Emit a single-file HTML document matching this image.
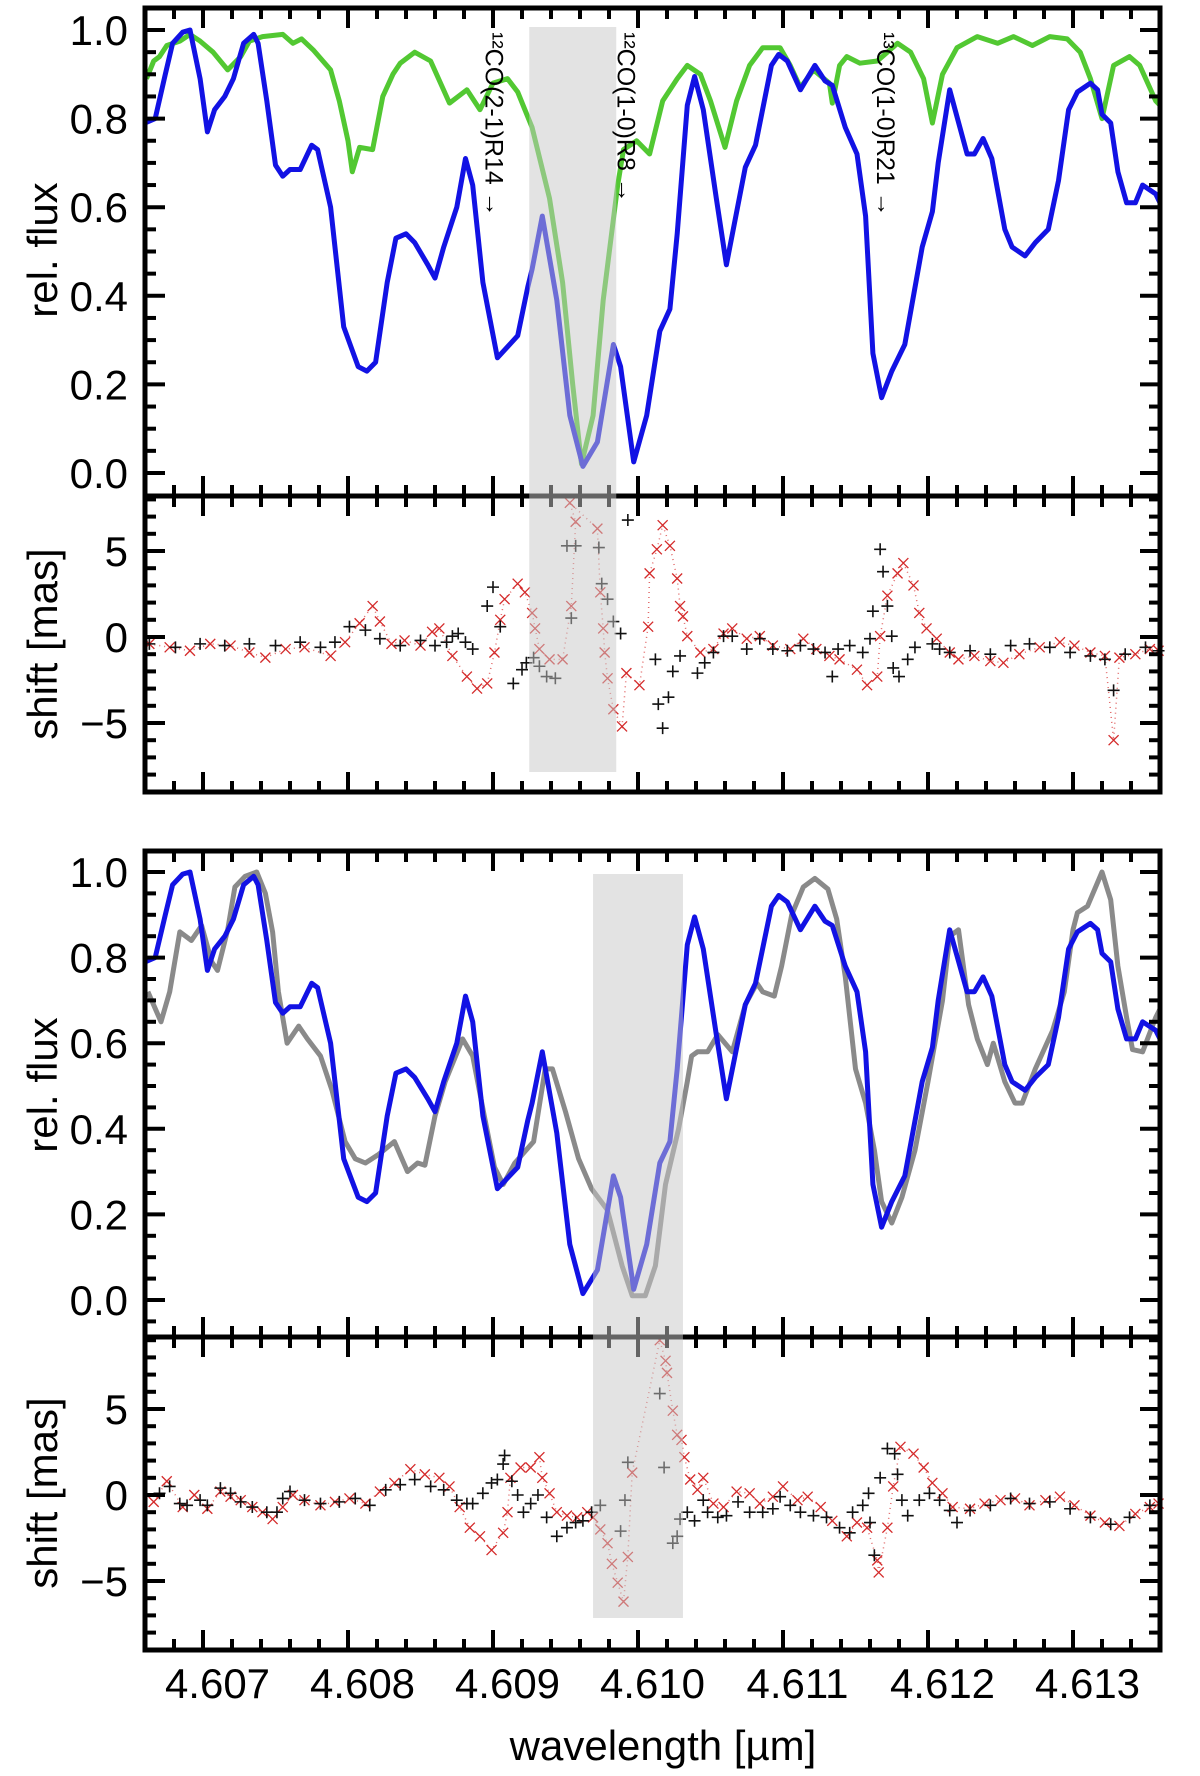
<!DOCTYPE html>
<html><head><meta charset="utf-8"><title>Spectra and astrometric shift</title>
<style>
html,body{margin:0;padding:0;background:#fff;}
svg{display:block;font-family:"Liberation Sans",Arial,sans-serif;}
</style></head>
<body>
<svg id="fig" width="1200" height="1776" viewBox="0 0 1200 1776" xmlns="http://www.w3.org/2000/svg"></svg>
<script>
// ---------- data ----------
const blueWl=[4.60650,4.60657,4.60664,4.60669,4.60676,4.60681,4.60688,4.60693,4.60698,4.60705,4.60711,4.60718,4.60725,4.60728,4.60734,4.60740,4.60745,4.60750,4.60757,4.60765,4.60769,4.60778,4.60787,4.60797,4.60803,4.60809,4.60817,4.60823,4.60830,4.60836,4.60845,4.60850,4.60856,4.60865,4.60871,4.60876,4.60883,4.60893,4.60907,4.60914,4.60917,4.60924,4.60934,4.60943,4.60952,4.60962,4.60973,4.60978,4.60987,4.60996,4.61005,4.61012,4.61017,4.61024,4.61029,4.61035,4.61044,4.61051,4.61064,4.61071,4.61082,4.61087,4.61093,4.61102,4.61112,4.61119,4.61124,4.61133,4.61141,4.61147,4.61152,4.61158,4.61165,4.61174,4.61186,4.61193,4.61197,4.61205,4.61217,4.61222,4.61228,4.61234,4.61243,4.61248,4.61257,4.61264,4.61273,4.61280,4.61287,4.61293,4.61302,4.61307,4.61310,4.61316,4.61321,4.61327,4.61333,4.61338,4.61347,4.61350];
const blueFlux=[.79,.80,.90,.97,.995,1.0,.89,.77,.82,.85,.89,.97,.99,.97,.84,.695,.67,.685,.685,.74,.73,.60,.33,.24,.23,.25,.43,.53,.54,.52,.47,.44,.51,.60,.71,.65,.43,.26,.31,.42,.46,.58,.39,.13,.015,.07,.29,.24,.025,.13,.32,.37,.54,.83,.895,.82,.62,.47,.69,.74,.92,.945,.93,.865,.92,.885,.875,.78,.72,.58,.27,.17,.23,.29,.51,.59,.70,.865,.72,.72,.755,.71,.55,.51,.49,.52,.55,.66,.82,.86,.88,.865,.81,.79,.68,.61,.61,.65,.63,.61];
const greenWl=[4.60651,4.60656,4.60660,4.60665,4.60674,4.60681,4.60688,4.60697,4.60707,4.60716,4.60722,4.60731,4.60745,4.60752,4.60758,4.60766,4.60778,4.60784,4.60790,4.60793,4.60798,4.60807,4.60814,4.60821,4.60826,4.60836,4.60847,4.60860,4.60872,4.60881,4.60890,4.60900,4.60907,4.60917,4.60929,4.60938,4.60945,4.60951,4.60959,4.60966,4.60976,4.60980,4.60989,4.60998,4.61007,4.61017,4.61024,4.61033,4.61040,4.61050,4.61058,4.61067,4.61076,4.61088,4.61095,4.61102,4.61111,4.61122,4.61124,4.61129,4.61134,4.61143,4.61155,4.61169,4.61178,4.61187,4.61193,4.61200,4.61210,4.61224,4.61238,4.61249,4.61262,4.61274,4.61286,4.61295,4.61302,4.61310,4.61318,4.61329,4.61336,4.61347,4.61350];
const greenFlux=[.89,.93,.94,.965,.975,.99,.975,.95,.91,.94,.975,.985,.99,.97,.98,.955,.91,.84,.75,.68,.735,.73,.85,.90,.925,.95,.93,.835,.865,.82,.88,.89,.86,.78,.62,.43,.20,.02,.13,.39,.65,.73,.75,.72,.84,.89,.92,.90,.84,.735,.84,.92,.96,.96,.92,.87,.91,.88,.835,.92,.94,.925,.93,.97,.95,.89,.79,.90,.96,.985,.97,.985,.965,.985,.98,.95,.89,.80,.92,.94,.92,.84,.83];
const grayWl=[4.60652,4.60661,4.60667,4.60674,4.60682,4.60689,4.60696,4.60700,4.60707,4.60712,4.60719,4.60727,4.60733,4.60738,4.60742,4.60748,4.60756,4.60762,4.60771,4.60779,4.60788,4.60795,4.60802,4.60811,4.60822,4.60831,4.60838,4.60843,4.60850,4.60857,4.60869,4.60876,4.60884,4.60891,4.60897,4.60905,4.60918,4.60926,4.60931,4.60940,4.60949,4.60958,4.60969,4.60979,4.60986,4.60995,4.61002,4.61009,4.61018,4.61024,4.61027,4.61031,4.61038,4.61045,4.61055,4.61064,4.61072,4.61076,4.61084,4.61089,4.61096,4.61104,4.61112,4.61121,4.61127,4.61133,4.61140,4.61147,4.61153,4.61158,4.61165,4.61172,4.61181,4.61190,4.61200,4.61205,4.61211,4.61218,4.61224,4.61231,4.61235,4.61243,4.61250,4.61255,4.61264,4.61276,4.61284,4.61290,4.61293,4.61300,4.61310,4.61316,4.61321,4.61327,4.61331,4.61338,4.61347,4.61350];
const grayFlux=[.72,.65,.72,.86,.84,.875,.79,.77,.865,.965,.99,1.0,.95,.86,.72,.60,.64,.61,.57,.49,.37,.33,.32,.34,.37,.30,.32,.315,.43,.51,.61,.57,.43,.31,.27,.32,.37,.54,.54,.44,.33,.26,.21,.08,.01,.01,.08,.27,.40,.51,.57,.58,.58,.62,.58,.69,.74,.72,.71,.78,.90,.965,.985,.96,.89,.755,.54,.46,.35,.23,.18,.24,.35,.51,.70,.85,.865,.69,.61,.55,.60,.51,.46,.46,.54,.63,.72,.865,.905,.92,1.0,.935,.78,.66,.585,.58,.66,.68];
// shift panel 1
const s1RedWl=[4.60653,4.60667,4.60681,4.60695,4.60709,4.60722,4.60733,4.60747,4.60760,4.60778,4.60788,4.60798,4.60807,4.60812,4.60820,4.60829,4.60840,4.60848,4.60853,4.60862,4.60872,4.60879,4.60886,4.60891,4.60895,4.60898,4.60907,4.60912,4.60917,4.60919,4.60922,4.60929,4.60938,4.60944,4.60947,4.60943,4.60962,4.60964,4.60966,4.60967,4.60969,4.60973,4.60979,4.60982,4.60991,4.60997,4.60998,4.61003,4.61007,4.61012,4.61017,4.61019,4.61021,4.61024,4.61033,4.61042,4.61049,4.61055,4.61065,4.61074,4.61083,4.61095,4.61104,4.61113,4.61122,4.61129,4.61141,4.61148,4.61155,4.61157,4.61162,4.61169,4.61173,4.61180,4.61184,4.61189,4.61196,4.61205,4.61211,4.61222,4.61233,4.61242,4.61253,4.61267,4.61281,4.61291,4.61302,4.61312,4.61318,4.61322,4.61333,4.61343,4.61349];
const s1RedShift=[-0.4,-0.6,-0.8,-0.4,-0.5,-0.9,-1.2,-0.7,-0.6,-1.1,-0.3,0.8,1.8,0.9,-0.4,-0.2,-0.5,0.3,0.5,-1.1,-2.3,-3.0,-2.7,-0.9,1.0,2.2,3.1,2.6,1.4,0.5,-0.7,-1.3,-1.3,1.8,6.7,7.8,6.3,2.6,0.5,-0.9,-2.4,-4.2,-5.2,-2.1,-2.8,0.6,3.7,5.1,6.5,5.3,3.4,1.8,1.2,0.05,-0.9,-0.7,0.2,0.5,-0.1,0.05,-0.5,-0.7,-0.1,-0.7,-1.1,-1.3,-1.9,-2.8,-2.3,0.05,2.4,3.7,4.3,3.0,1.4,0.5,-0.1,-0.9,-1.3,-1.1,-1.4,-1.5,-1.0,-0.6,-0.3,-0.5,-0.9,-1.1,-6.0,-1.2,-1.0,-0.7,-0.8];
const s1BlackWl=[4.60653,4.60671,4.60688,4.60705,4.60722,4.60740,4.60757,4.60771,4.60781,4.60791,4.60802,4.60812,4.60826,4.60840,4.60850,4.60858,4.60862,4.60866,4.60871,4.60876,4.60886,4.60890,4.60895,4.60904,4.60910,4.60913,4.60918,4.60922,4.60927,4.60933,4.60941,4.60947,4.60944,4.60963,4.60965,4.60969,4.60973,4.60978,4.60983,4.61002,4.61004,4.61007,4.61011,4.61014,4.61019,4.61031,4.61036,4.61042,4.61049,4.61055,4.61065,4.61074,4.61083,4.61093,4.61102,4.61111,4.61119,4.61124,4.61128,4.61136,4.61145,4.61150,4.61152,4.61157,4.61159,4.61162,4.61165,4.61166,4.61170,4.61176,4.61181,4.61193,4.61198,4.61205,4.61219,4.61233,4.61247,4.61260,4.61274,4.61288,4.61302,4.61312,4.61318,4.61326,4.61340,4.61349];
const s1BlackShift=[-0.4,-0.6,-0.4,-0.5,-0.4,-0.5,-0.3,-0.6,-0.3,0.6,0.4,-0.1,-0.5,-0.2,-0.5,-0.3,0.05,0.2,-0.3,-0.7,1.8,2.9,0.6,-2.7,-1.9,-1.5,-1.2,-1.7,-2.3,-2.4,5.3,5.3,1.1,5.2,3.1,2.2,0.9,0.2,6.8,-1.3,-3.9,-5.3,-3.5,-2.0,-1.1,-2.1,-1.5,-0.9,0.05,0.05,-0.7,-0.1,-0.7,-0.8,-0.5,-0.7,-0.9,-2.3,-0.7,-0.5,-0.9,-0.1,1.5,5.1,3.8,1.8,0.05,-1.8,-2.3,-1.3,-0.6,-0.4,-0.7,-0.9,-0.8,-1.0,-0.5,-0.4,-0.6,-0.9,-1.1,-1.3,-3.1,-1.0,-0.6,-0.8];
// shift panel 2
const s2RedWl=[4.60656,4.60665,4.60676,4.60684,4.60693,4.60702,4.60709,4.60716,4.60724,4.60731,4.60738,4.60745,4.60752,4.60760,4.60771,4.60781,4.60791,4.60802,4.60812,4.60822,4.60833,4.60843,4.60853,4.60860,4.60867,4.60874,4.60881,4.60889,4.60897,4.60900,4.60902,4.60909,4.60916,4.60922,4.60924,4.60929,4.60934,4.60941,4.60948,4.60955,4.60959,4.60964,4.60969,4.60972,4.60976,4.60980,4.60983,4.60986,4.61005,4.61009,4.61010,4.61014,4.61017,4.61020,4.61022,4.61026,4.61031,4.61035,4.61042,4.61049,4.61058,4.61067,4.61074,4.61083,4.61090,4.61100,4.61107,4.61116,4.61124,4.61134,4.61141,4.61148,4.61155,4.61156,4.61162,4.61166,4.61171,4.61180,4.61187,4.61193,4.61200,4.61207,4.61219,4.61229,4.61240,4.61250,4.61260,4.61271,4.61281,4.61291,4.61302,4.61312,4.61322,4.61333,4.61343,4.61349];
const s2RedShift=[-0.4,0.8,-0.7,0.0,-0.8,0.2,-0.1,-0.3,-0.7,-1.0,-1.4,-0.7,0.0,-0.3,-0.6,-0.4,-0.2,-0.5,0.2,0.7,1.5,1.2,1.0,0.5,-0.7,-1.9,-2.4,-3.2,-2.2,-1.0,1.0,1.6,1.6,2.2,1.0,0.1,-1.0,-1.2,-1.3,-1.0,-1.3,-2.0,-2.8,-4.0,-5.1,-6.2,-3.6,1.3,9.0,7.8,7.1,4.9,3.5,3.2,2.2,0.9,0.3,1.0,-0.5,-0.7,0.2,0.1,-0.5,-0.1,0.5,-0.3,-0.1,-0.7,-1.5,-2.4,-1.6,-1.9,-3.8,-4.5,-1.9,0.5,2.8,2.4,1.6,0.7,0.1,-0.7,-0.8,-0.5,-0.3,-0.2,-0.6,-0.3,-0.1,-0.6,-1.2,-1.6,-1.8,-1.1,-0.7,-0.5];
const s2BlackWl=[4.60660,4.60667,4.60674,4.60679,4.60688,4.60693,4.60702,4.60709,4.60716,4.60724,4.60734,4.60741,4.60745,4.60750,4.60760,4.60771,4.60784,4.60795,4.60805,4.60816,4.60826,4.60836,4.60847,4.60856,4.60865,4.60872,4.60876,4.60883,4.60889,4.60893,4.60897,4.60898,4.60903,4.60907,4.60911,4.60916,4.60921,4.60927,4.60934,4.60941,4.60947,4.60952,4.60958,4.60964,4.60978,4.60981,4.60983,4.61005,4.61008,4.61014,4.61017,4.61019,4.61024,4.61029,4.61035,4.61038,4.61045,4.61051,4.61059,4.61067,4.61076,4.61083,4.61088,4.61095,4.61102,4.61111,4.61120,4.61129,4.61136,4.61138,4.61145,4.61149,4.61150,4.61153,4.61157,4.61162,4.61167,4.61169,4.61172,4.61176,4.61184,4.61191,4.61198,4.61205,4.61210,4.61219,4.61233,4.61247,4.61260,4.61274,4.61288,4.61302,4.61316,4.61329,4.61343];
const s2BlackShift=[0.1,0.5,-0.5,-0.6,-0.3,-0.6,0.4,0.1,-0.4,-0.7,-1.0,-1.0,-0.2,0.2,-0.3,-0.5,-0.4,-0.2,-0.6,0.3,0.6,0.9,0.5,0.3,-0.3,-0.5,-0.5,0.1,0.7,0.9,1.8,2.3,0.8,0.0,-1.0,-0.5,0.0,-1.3,-2.4,-1.9,-1.6,-1.5,-1.0,-0.6,-2.1,-0.3,1.9,5.9,1.6,-2.8,-2.4,-1.4,-1.0,-1.5,-0.3,-1.0,-1.3,-1.2,-0.4,-1.0,-1.0,-0.8,-0.1,-0.6,-1.0,-1.2,-1.3,-1.9,-2.2,-1.0,-0.6,0.1,-1.6,-3.5,1.0,2.7,2.4,1.2,-0.3,-1.2,-0.3,0.1,-0.3,-0.9,-1.6,-0.9,-0.6,-0.2,-0.5,-0.4,-0.8,-1.3,-1.7,-1.3,-0.6];
const xTickLabels=["4.607","4.608","4.609","4.610","4.611","4.612","4.613"];
const fluxTickLabels=["0.0","0.2","0.4","0.6","0.8","1.0"];
const shiftTickLabels=["\u22125","0","5"];
const band1=[4.60915,4.60975];
const band2=[4.60959,4.61021];
const lineLabels=["\u00B9\u00B2CO(2-1)R14 \u2192","\u00B9\u00B2CO(1-0)R8 \u2192","\u00B9\u00B3CO(1-0)R21 \u2192"];
const lineLabelWl=[4.60891,4.60982,4.61161];

// ---------- helpers ----------
const NS="http://www.w3.org/2000/svg";
const svg=document.getElementById('fig');
function mk(tag,attrs,parent){const e=document.createElementNS(NS,tag);for(const k in attrs)e.setAttribute(k,attrs[k]);(parent||svg).appendChild(e);return e;}
const XL=145,XR=1160,W0=4.6065,W1=4.6135;
function xs(w){return XL+(w-W0)/(W1-W0)*(XR-XL);}
const panels={
 f1:{top:8,bot:496,y:v=>473-443*v},
 s1:{top:496,bot:792,y:v=>637-17.2*v},
 f2:{top:851,bot:1337,y:v=>1300-428*v},
 s2:{top:1337,bot:1650,y:v=>1495-17.2*v}
};
function linePath(wl,vals,yf){let d="";for(let i=0;i<wl.length;i++){d+=(i?"L":"M")+xs(wl[i]).toFixed(1)+","+yf(vals[i]).toFixed(1);}return d;}

function drawLine(wl,vals,p,color,name){
 const g=mk('path',{d:linePath(wl,vals,p.y),fill:'none',stroke:color,'stroke-width':5,'stroke-linejoin':'round','clip-path':'url(#clip-'+name.split('-')[0]+')'});
 
 
}
function drawPlus(wl,vals,p,name){
 const g=mk('g',{stroke:'#111','stroke-width':1.6});
 
 
 for(let i=0;i<wl.length;i++){const x=xs(wl[i]),y=p.y(vals[i]);
  if(y<p.top||y>p.bot)continue;
  mk('path',{d:`M${x-6},${y}H${x+6}M${x},${y-6}V${y+6}`},g);}
}
function drawCross(wl,vals,p,name){
 const g=mk('g',{stroke:'#d42a2a','stroke-width':1.3});
 
 
 const conn=mk('path',{d:linePath(wl,vals,p.y),fill:'none',stroke:'#d42a2a','stroke-width':1.5,'stroke-dasharray':'1 4','stroke-opacity':0.7,'clip-path':'url(#clip-'+name.split('-')[0]+')'},g);
 for(let i=0;i<wl.length;i++){const x=xs(wl[i]),y=p.y(vals[i]);
  if(y<p.top||y>p.bot)continue;
  mk('path',{d:`M${x-5},${y-5}L${x+5},${y+5}M${x-5},${y+5}L${x+5},${y-5}`},g);}
}

// clip paths
const defs=mk('defs',{});
for(const k of ['f1','f2','s1','s2']){const c=mk('clipPath',{id:'clip-'+k},defs);const p=panels[k];mk('rect',{x:XL,y:p.top,width:XR-XL,height:p.bot-p.top},c);}

// ---------- series ----------
drawLine(greenWl,greenFlux,panels.f1,'#52c832','f1-green-spectrum');
drawLine(blueWl,blueFlux,panels.f1,'#1212e4','f1-blue-spectrum');
drawLine(grayWl,grayFlux,panels.f2,'#8a8a8a','f2-gray-spectrum');
drawLine(blueWl,blueFlux,panels.f2,'#1212e4','f2-blue-spectrum');
drawCross(s1RedWl,s1RedShift,panels.s1,'s1-red-shift-points');
drawPlus(s1BlackWl,s1BlackShift,panels.s1,'s1-black-shift-points');
drawCross(s2RedWl,s2RedShift,panels.s2,'s2-red-shift-points');
drawPlus(s2BlackWl,s2BlackShift,panels.s2,'s2-black-shift-points');

// ---------- frames and ticks ----------
function frame(p,name){
 const r=mk('rect',{x:XL,y:p.top,width:XR-XL,height:p.bot-p.top,fill:'none',stroke:'#000','stroke-width':5});
 
 
 const g=mk('g',{stroke:'#000','stroke-width':4});
 
 
 for(let i=0;i<=35;i++){const w=W0+i*0.0002;const x=xs(w);const major=(i%5===2);const L=major?20:11;
  mk('line',{x1:x,y1:p.top,x2:x,y2:p.top+L},g);mk('line',{x1:x,y1:p.bot,x2:x,y2:p.bot-L},g);}
 return g;
}
function yTicks(p,from,to,minor,majorEvery,g){
 for(let v=from;v<=to+1e-9;v+=minor){const y=p.y(v);if(y<p.top+2||y>p.bot-2)continue;
  const major=Math.abs(v/majorEvery-Math.round(v/majorEvery))<1e-6;const L=major?20:11;
  mk('line',{x1:XL,y1:y,x2:XL+L,y2:y},g);mk('line',{x1:XR,y1:y,x2:XR-L,y2:y},g);}
}
const g1=frame(panels.f1,'flux-panel-top');yTicks(panels.f1,-0.1,1.1,0.05,0.2,g1);
const g2=frame(panels.s1,'shift-panel-top');yTicks(panels.s1,-9,9,1,5,g2);
const g3=frame(panels.f2,'flux-panel-bottom');yTicks(panels.f2,-0.1,1.1,0.05,0.2,g3);
const g4=frame(panels.s2,'shift-panel-bottom');yTicks(panels.s2,-9,9,1,5,g4);

// ---------- bands ----------
function band(b,top,bot,name){const r=mk('rect',{x:xs(b[0]),y:top,width:xs(b[1])-xs(b[0]),height:bot-top,fill:'rgb(200,200,200)','fill-opacity':0.5});
 
 }
band(band1,27,772,'highlight-band-top');
band(band2,874,1618,'highlight-band-bottom');

// ---------- labels ----------
function text(x,y,s,attrs,name){const t=mk('text',Object.assign({x:x,y:y},attrs));t.textContent=s;
 
 return t;}
const fluxVals=[0,0.2,0.4,0.6,0.8,1.0];
for(const k of ['f1','f2']){fluxVals.forEach((v,i)=>{text(128,panels[k].y(v)+15,fluxTickLabels[i],{'font-size':42,'text-anchor':'end'},'y-tick-label');});}
const shiftVals=[-5,0,5];
for(const k of ['s1','s2']){shiftVals.forEach((v,i)=>{text(128,panels[k].y(v)+15,shiftTickLabels[i],{'font-size':42,'text-anchor':'end'},'y-tick-label');});}
xTickLabels.forEach((s,i)=>{text(xs(4.607+i*0.001),1698,s,{'font-size':42,'text-anchor':'middle'},'x-tick-label');});
text(663,1760,'wavelength [\u00B5m]',{'font-size':42,'text-anchor':'middle'},'x-axis-title');
function ylab(cy,s,name){text(0,0,s,{'font-size':42,'text-anchor':'middle',transform:`translate(57,${cy}) rotate(-90)`},name);}
ylab(250,'rel. flux','y-axis-title-flux-top');
ylab(644,'shift [mas]','y-axis-title-shift-top');
ylab(1085,'rel. flux','y-axis-title-flux-bottom');
ylab(1493,'shift [mas]','y-axis-title-shift-bottom');
lineLabels.forEach((s,i)=>{text(0,0,s,{'font-size':25,transform:`translate(${xs(lineLabelWl[i])-9},32) rotate(90)`},'line-annotation');});
</script>
</body></html>
